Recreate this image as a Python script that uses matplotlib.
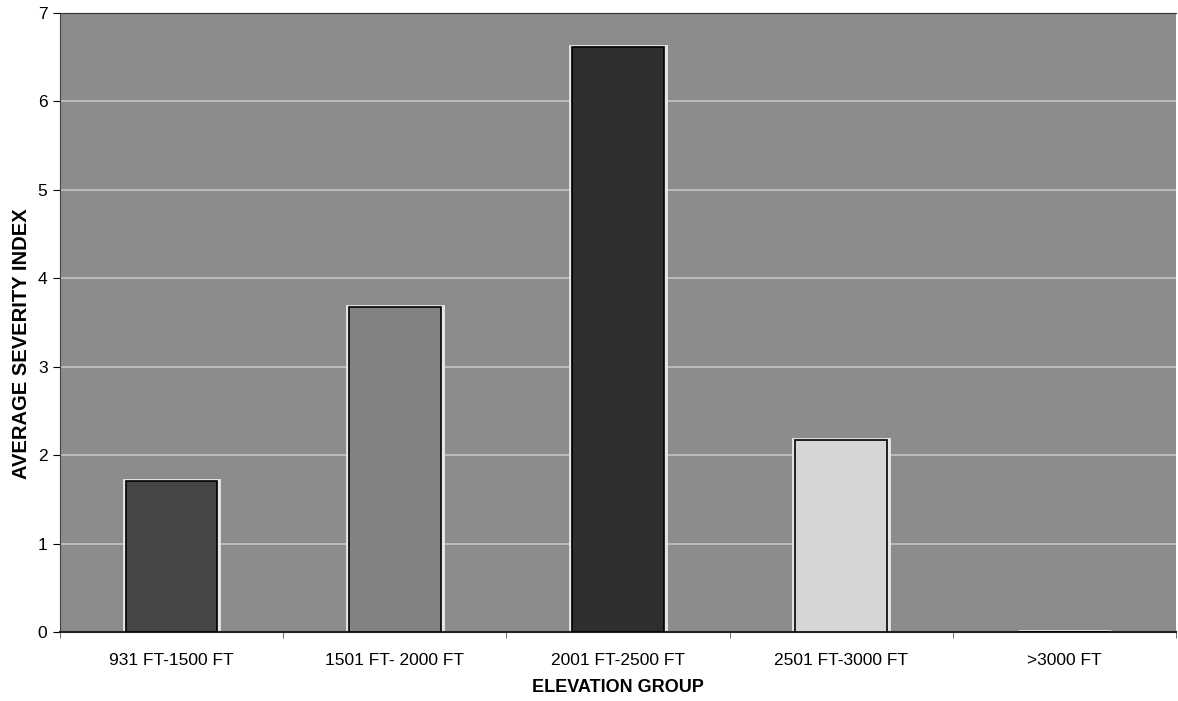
import matplotlib
matplotlib.use("Agg")
import matplotlib.pyplot as plt
import numpy as np

# -------------------- data --------------------
categories = ["931 FT-1500 FT", "1501 FT- 2000 FT", "2001 FT-2500 FT", "2501 FT-3000 FT", ">3000 FT"]
severity = [1.71, 3.68, 6.62, 2.17, 0.0]
bar_colors = ["#464646", "#828282", "#2e2e2e", "#d6d6d6", "#8a8a8a"]
y_ticks = [0, 1, 2, 3, 4, 5, 6, 7]

plt.rcParams["font.family"] = ["Liberation Sans", "DejaVu Sans"]

fig = plt.figure(figsize=(11.78, 7.01), dpi=100)
ax = fig.add_axes([60 / 1178, 69 / 701, 1116 / 1178, 619 / 701])

ax.set_facecolor("#8c8c8c")
x = np.arange(len(categories))

# light halo behind each bar, then the bar itself
ax.bar(x, severity, width=0.42, color="none", edgecolor="#e6e6e6", linewidth=3.5, zorder=2)
ax.bar(x, severity, width=0.41, color=bar_colors, edgecolor="black", linewidth=1.2, zorder=3)

ax.set_xlim(-0.5, len(categories) - 0.5)
ax.set_ylim(0, 7)
ax.set_yticks(y_ticks)
ax.yaxis.grid(True, color="#c4c4c4", linewidth=1.2, zorder=1)
ax.set_axisbelow(True)

# category labels centred, ticks on the boundaries
ax.set_xticks(x)
ax.set_xticklabels(categories, fontsize=12.5)
ax.tick_params(axis="x", length=0, pad=15)
ax.set_xticks(np.arange(len(categories) + 1) - 0.5, minor=True)
ax.tick_params(axis="x", which="minor", length=4, color="#555555")
ax.tick_params(axis="y", labelsize=12.5, length=5, pad=4)

ax.spines["right"].set_visible(False)
ax.spines["top"].set_color("#333333")
ax.spines["left"].set_color("#444444")
ax.spines["bottom"].set_color("#222222")
ax.spines["bottom"].set_linewidth(1.5)

ax.set_xlabel("ELEVATION GROUP", fontsize=13, fontweight="bold", labelpad=8)
ax.set_ylabel("AVERAGE SEVERITY INDEX", fontsize=14.5, fontweight="bold")
ax.yaxis.set_label_coords(-0.026, 0.465)

fig.savefig("out.png", dpi=100)
